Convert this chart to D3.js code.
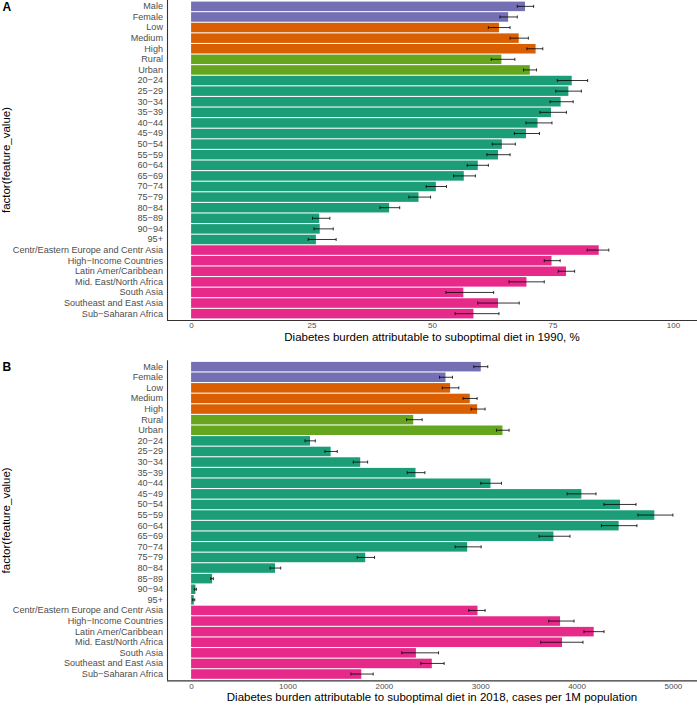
<!DOCTYPE html>
<html><head><meta charset="utf-8">
<script src="https://cdn.jsdelivr.net/npm/d3@7"></script>
<style>body{margin:0;background:#fff}svg{display:block;font-family:"Liberation Sans",Arial,sans-serif}</style>
</head><body>
<svg id="c" width="697" height="705"></svg>
<script>
const categories = ["Male","Female","Low","Medium","High","Rural","Urban","20\u221224","25\u221229","30\u221234","35\u221239","40\u221244","45\u221249","50\u221254","55\u221259","60\u221264","65\u221269","70\u221274","75\u221279","80\u221284","85\u221289","90\u221294","95+","Centr/Eastern Europe and Centr Asia","High\u2212Income Countries","Latin Amer/Caribbean","Mid. East/North Africa","South Asia","Southeast and East Asia","Sub\u2212Saharan Africa"];
const groups = ["sex","sex","edu","edu","edu","urb","urb","age","age","age","age","age","age","age","age","age","age","age","age","age","age","age","age","reg","reg","reg","reg","reg","reg","reg"];
const groupColors = {sex:"#7570B3",edu:"#D95F02",urb:"#66A61E",age:"#1B9E77",reg:"#E7298A"};

const valuesA = [69.3,65.8,63.9,68.0,71.5,64.4,70.3,79.0,78.3,76.7,74.7,71.9,69.5,64.5,63.7,59.5,56.6,50.8,47.2,41.1,26.6,26.7,25.9,84.6,74.8,77.8,69.6,56.5,63.7,58.6];
const lowerA = [67.7,64.1,61.7,66.2,69.7,62.3,69.0,76.0,75.7,74.5,72.4,69.5,67.1,62.5,61.4,57.3,54.5,48.8,45.2,39.2,25.2,25.5,24.3,82.2,73.3,76.2,66.0,52.9,59.5,54.8];
const upperA = [71.1,67.7,66.2,70.0,73.0,67.2,71.7,82.3,81.0,79.3,77.9,74.9,72.3,67.3,66.2,61.7,59.0,53.0,49.7,43.3,28.8,29.5,30.1,86.7,76.6,79.6,73.3,62.8,68.1,63.9];

const valuesB = [3006,2640,2688,2892,2968,2305,3231,1234,1448,1755,2329,3107,4050,4451,4807,4437,3760,2865,1807,871,218,45,28,2972,3829,4178,3849,2333,2498,1766];
const lowerB = [2934,2578,2606,2823,2906,2236,3169,1182,1389,1683,2243,3006,3902,4285,4637,4258,3611,2740,1724,819,204,34,17,2882,3711,4077,3628,2187,2384,1659];
const upperB = [3079,2713,2778,2968,3051,2398,3300,1289,1517,1832,2426,3221,4202,4617,5000,4627,3932,3010,1904,930,231,55,38,3051,3974,4285,4067,2568,2626,1890];

const ticksA = [0,25,50,75,100];
const ticksB = [0,1000,2000,3000,4000,5000];
const titleA = "Diabetes burden attributable to suboptimal diet in 1990, %";
const titleB = "Diabetes burden attributable to suboptimal diet in 2018, cases per 1M population";
const yTitle = "factor(feature_value)";

const svg = d3.select("#c");

function panel(opt){
  const {top, bottom, left, right, vals, lo, hi, ticks, maxV, title, tag} = opt;
  const g = svg.append("g");
  const x = d3.scaleLinear().domain([-0.05*maxV, 1.05*maxV]).range([left, right]);
  const y = d3.scaleBand().domain(categories).range([top, bottom]).paddingInner(0.1).paddingOuter(0.15);
  const data = categories.map((c,i)=>({c, v:vals[i], lo:lo[i], hi:hi[i], grp:groups[i]}));
  g.selectAll("rect.bar").data(data).join("rect").attr("class","bar")
    .attr("x", x(0)).attr("y", d=>y(d.c))
    .attr("width", d=>x(d.v)-x(0)).attr("height", y.bandwidth())
    .attr("fill", d=>groupColors[d.grp]);
  const eb = g.selectAll("g.eb").data(data).join("g").attr("class","eb")
    .attr("stroke","#000").attr("stroke-opacity",0.8).attr("stroke-width",1);
  eb.append("line").attr("x1",d=>x(d.lo)).attr("x2",d=>x(d.hi))
    .attr("y1",d=>y(d.c)+y.bandwidth()/2).attr("y2",d=>y(d.c)+y.bandwidth()/2);
  eb.append("line").attr("x1",d=>x(d.lo)).attr("x2",d=>x(d.lo))
    .attr("y1",d=>y(d.c)+y.bandwidth()/2-1.5).attr("y2",d=>y(d.c)+y.bandwidth()/2+1.5);
  eb.append("line").attr("x1",d=>x(d.hi)).attr("x2",d=>x(d.hi))
    .attr("y1",d=>y(d.c)+y.bandwidth()/2-1.5).attr("y2",d=>y(d.c)+y.bandwidth()/2+1.5);

  const yAx = g.append("g").attr("transform",`translate(${left},0)`)
    .call(d3.axisLeft(y).tickSize(0).tickPadding(4));
  yAx.select(".domain").attr("stroke","#333").attr("stroke-width",1.1).attr("d",`M0.5,${top}V${bottom}`);
  yAx.selectAll("text").attr("fill","#4D4D4D").attr("font-size",9.1).attr("font-family","Liberation Sans, Arial, sans-serif");
  const xAx = g.append("g").attr("transform",`translate(0,${bottom})`)
    .call(d3.axisBottom(x).tickValues(ticks).tickSize(0).tickPadding(2.5).tickFormat(d3.format("d")));
  xAx.select(".domain").attr("stroke","#333").attr("stroke-width",1.1).attr("d",`M${left},0.5H${right}`);
  xAx.selectAll("text").attr("fill","#4D4D4D").attr("font-size",8).attr("font-family","Liberation Sans, Arial, sans-serif");

  g.append("text").attr("x",(left+right)/2).attr("y",bottom+21).attr("text-anchor","middle")
    .attr("font-size",11.5).attr("fill","#000").text(title);
  g.append("text").attr("transform",`translate(10,${(top+bottom)/2}) rotate(-90)`)
    .attr("text-anchor","middle").attr("font-size",11.5).attr("fill","#000").text(yTitle);
  g.append("text").attr("x",2.5).attr("y",top+11).attr("font-size",12).attr("font-weight","bold").attr("fill","#000").text(tag);
}

panel({top:0, bottom:320, left:167, right:697, vals:valuesA, lo:lowerA, hi:upperA, ticks:ticksA, maxV:100, title:titleA, tag:"A"});
panel({top:360.3, bottom:680.4, left:167, right:697, vals:valuesB, lo:lowerB, hi:upperB, ticks:ticksB, maxV:5000, title:titleB, tag:"B"});
</script>
</body></html>
